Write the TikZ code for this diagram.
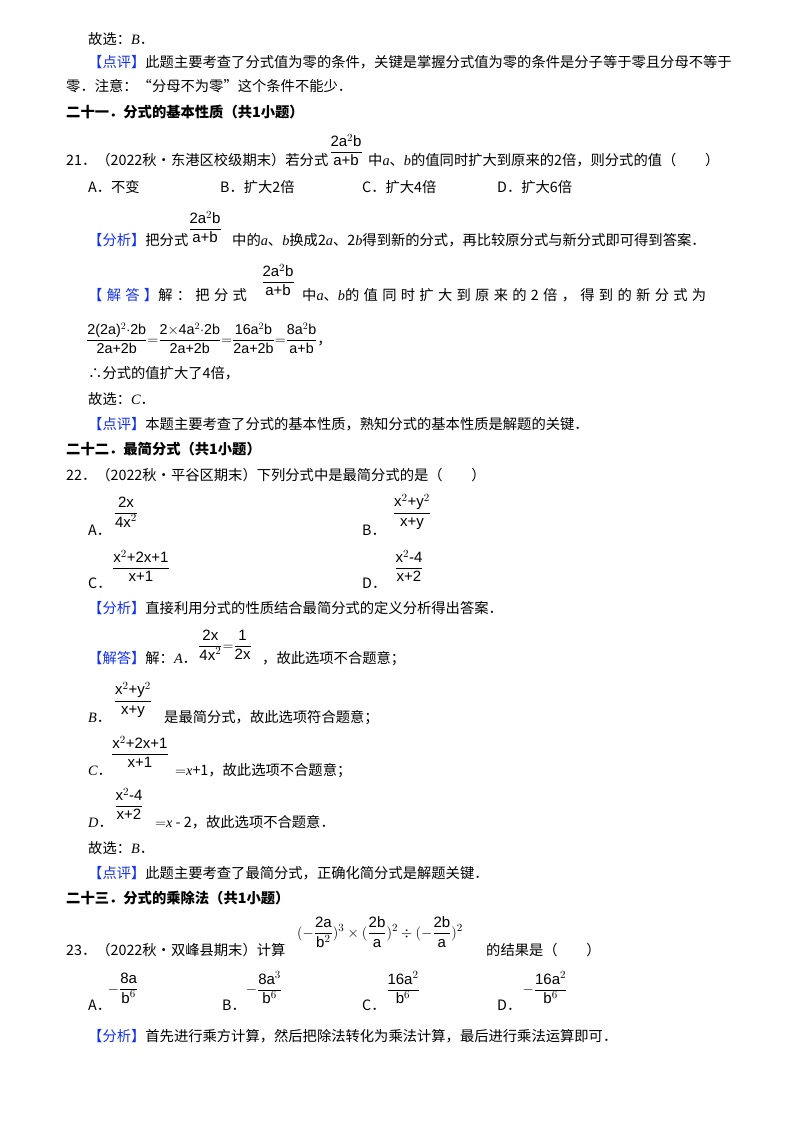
\documentclass[tikz,border=0pt]{standalone}
\usepackage{fontspec}
\setmainfont{Noto Sans CJK SC}
\newfontfamily\lat{Liberation Serif}
\newfontfamily\sfx{Liberation Sans}
\newcommand\vv[1]{{\lat\itshape #1}}
\newcommand\ff[2]{\ensuremath{\displaystyle\frac{\mbox{\sfx #1}}{\mbox{\sfx #2}}}}
\definecolor{kw}{RGB}{20,50,235}
\newcommand\kw[1]{\textcolor{kw}{【#1】}}
\tikzset{t/.style={anchor=base west,inner sep=0pt},fr/.style={anchor=center,inner sep=0pt,font=\fontsize{15}{17}\selectfont},b/.style={t,font=\fontsize{14.3}{16}\selectfont\bfseries}}
\begin{document}
\begin{tikzpicture}[x=1pt,y=-1pt,every node/.style={font=\fontsize{14.3}{16}\selectfont}]
\useasboundingbox[fill=white] (0,0) rectangle (800,1132);
\node[t] (l1) at (88,45) {故选：\vv{B}．};
\node[t] (l2) at (88,67) {\kw{点评}此题主要考查了分式值为零的条件，关键是掌握分式值为零的条件是分子等于零且分母不等于};
\node[t] (l3) at (66,92) {零．注意：“分母不为零”这个条件不能少．};
\node[b] (h1) at (66,117) {二十一．分式的基本性质（共1小题）};
\node[t] (q21) at (66,165) {21．（2022秋•东港区校级期末）若分式};
\node[fr] (f1) at (346,150) {\ff{2a$^2$b}{a+b}};
\node[t] (q21b) at (368,165) {中\vv{a}、\vv{b}的值同时扩大到原来的2倍，则分式的值（\quad\quad）};
\node[t] (a1) at (88,192) {A．不变};
\node[t] (a2) at (220,192) {B．扩大2倍};
\node[t] (a3) at (362,192) {C．扩大4倍};
\node[t] (a4) at (497,192) {D．扩大6倍};
\node[fr] (f2) at (205,227) {\ff{2a$^2$b}{a+b}};
\node[t] (an1) at (88,245) {\kw{分析}把分式};
\node[t] (an1b) at (232,245) {中的\vv{a}、\vv{b}换成2\vv{a}、2\vv{b}得到新的分式，再比较原分式与新分式即可得到答案．};
\node[fr] (f3) at (278,280) {\ff{2a$^2$b}{a+b}};
\node[t] (s1) at (88,300) {\addfontfeature{LetterSpace=30}\kw{解答}解：把分式};
\node[t] (s1b) at (302,300) {\addfontfeature{LetterSpace=30}中\vv{a}、\vv{b}的值同时扩大到原来的2倍，得到的新分式为};
\node[t] (eq) at (86,344) {\ff{2(2a)$^2$$\cdot$2b}{2a+2b}$=$\ff{2$\times$4a$^2$$\cdot$2b}{2a+2b}$=$\ff{16a$^2$b}{2a+2b}$=$\ff{8a$^2$b}{a+b}，};
\node[t] (l4) at (88,378) {∴分式的值扩大了4倍，};
\node[t] (l5) at (88,404) {故选：\vv{C}．};
\node[t] (l6) at (88,429) {\kw{点评}本题主要考查了分式的基本性质，熟知分式的基本性质是解题的关键．};
\node[b] (h2) at (66,454) {二十二．最简分式（共1小题）};
\node[t] (q22) at (66,480) {22．（2022秋•平谷区期末）下列分式中是最简分式的是（\quad\quad）};
\node[t] (oa) at (88,535) {A．};
\node[fr] (foa) at (126,512) {\ff{2x}{4x$^2$}};
\node[t] (ob) at (362,535) {B．};
\node[fr] (fob) at (412,512) {\ff{x$^2$+y$^2$}{x+y}};
\node[t] (oc) at (88,588) {C．};
\node[fr] (foc) at (141,566) {\ff{x$^2$+2x+1}{x+1}};
\node[t] (od) at (362,588) {D．};
\node[fr] (fod) at (409,566) {\ff{x$^2$-4}{x+2}};
\node[t] (an2) at (88,613) {\kw{分析}直接利用分式的性质结合最简分式的定义分析得出答案．};
\node[t] (s2) at (88,663) {\kw{解答}解：\vv{A}．};
\node[fr] (fs2) at (225,645) {\ff{2x}{4x$^2$}$=$\ff{1}{2x}};
\node[t] (s2b) at (262,663) {，故此选项不合题意；};
\node[t] (s3) at (88,722) {\vv{B}．};
\node[fr] (fs3) at (133,700) {\ff{x$^2$+y$^2$}{x+y}};
\node[t] (s3b) at (164,722) {是最简分式，故此选项符合题意；};
\node[t] (s4) at (88,775) {\vv{C}．};
\node[fr] (fs4) at (140,752) {\ff{x$^2$+2x+1}{x+1}};
\node[t] (s4b) at (175,775) {$=$\vv{x}+1，故此选项不合题意；};
\node[t] (s5) at (88,827) {\vv{D}．};
\node[fr] (fs5) at (129,804) {\ff{x$^2$-4}{x+2}};
\node[t] (s5b) at (155,827) {$=$\vv{x} - 2，故此选项不合题意．};
\node[t] (l7) at (88,853) {故选：\vv{B}．};
\node[t] (l8) at (88,878) {\kw{点评}此题主要考查了最简分式，正确化简分式是解题关键．};
\node[b] (h3) at (66,903) {二十三．分式的乘除法（共1小题）};
\node[t] (q23) at (66,955) {23．（2022秋•双峰县期末）计算};
\node[fr] (f23) at (380,932) {$(-\ff{2a}{b$^2$})^{3}\times(\ff{2b}{a})^{2}\div(-\ff{2b}{a})^{2}$};
\node[t] (q23b) at (486,955) {的结果是（\quad\quad）};
\node[t] (pa) at (88,1010) {A．};
\node[fr] (fpa) at (123,988) {$-$\ff{8a}{b$^6$}};
\node[t] (pb) at (222,1010) {B．};
\node[fr] (fpb) at (264,988) {$-$\ff{8a$^3$}{b$^6$}};
\node[t] (pc) at (362,1010) {C．};
\node[fr] (fpc) at (403,988) {\ff{16a$^2$}{b$^6$}};
\node[t] (pd) at (497,1010) {D．};
\node[fr] (fpd) at (545,988) {$-$\ff{16a$^2$}{b$^6$}};
\node[t] (an3) at (88,1041) {\kw{分析}首先进行乘方计算，然后把除法转化为乘法计算，最后进行乘法运算即可．};
\end{tikzpicture}
\end{document}
